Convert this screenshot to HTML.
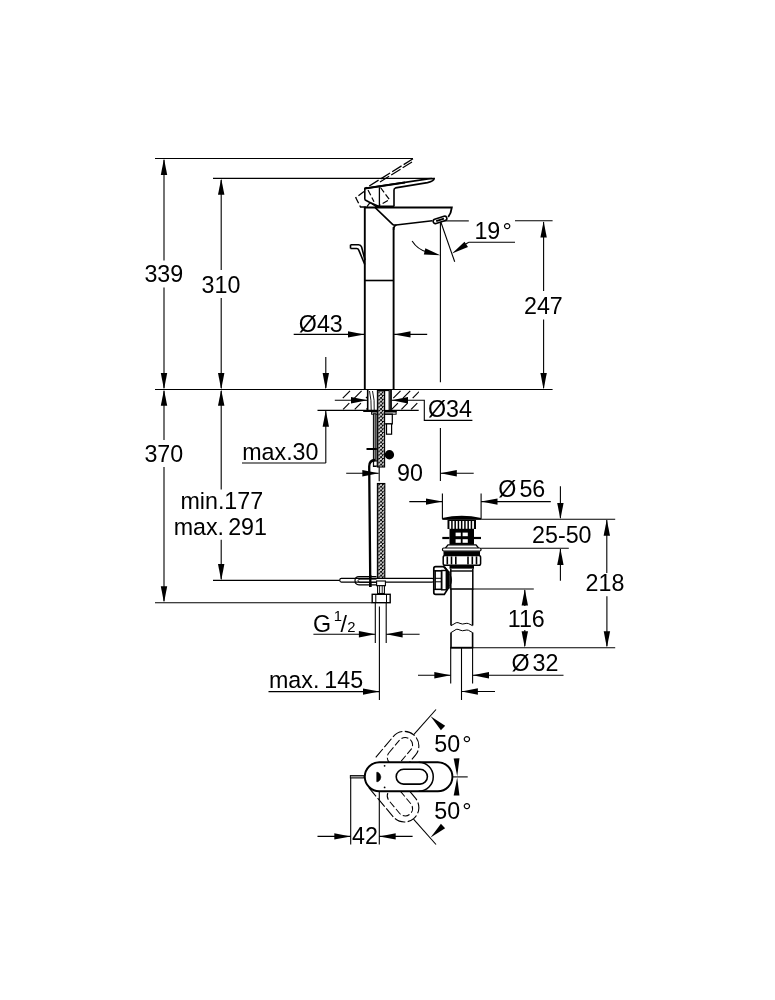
<!DOCTYPE html>
<html><head><meta charset="utf-8"><title>drawing</title>
<style>
html,body{margin:0;padding:0;background:#fff;}
body{width:775px;height:1000px;overflow:hidden;}
svg{display:block;will-change:transform;}
text{font-family:"Liberation Sans",sans-serif;fill:#000;}
</style></head><body>
<svg width="775" height="1000" viewBox="0 0 775 1000">
<rect x="0" y="0" width="775" height="1000" fill="#fff"/>
<line x1="155" y1="158.5" x2="413" y2="158.5" stroke="#000" stroke-width="1.1" />
<line x1="213" y1="178.4" x2="432" y2="178.4" stroke="#000" stroke-width="1.1" />
<line x1="155" y1="389.5" x2="552.6" y2="389.5" stroke="#000" stroke-width="1.15" />
<line x1="155" y1="602.7" x2="372" y2="602.7" stroke="#000" stroke-width="1.1" />
<line x1="213" y1="580.4" x2="340" y2="580.4" stroke="#000" stroke-width="1.1" />
<line x1="164" y1="160" x2="164" y2="260.5" stroke="#000" stroke-width="1.1" />
<line x1="164" y1="287.6" x2="164" y2="388" stroke="#000" stroke-width="1.1" />
<polygon points="164.00,158.50 167.20,174.90 160.80,174.90" fill="#000"/>
<polygon points="164.00,389.50 160.80,373.10 167.20,373.10" fill="#000"/>
<text transform="translate(163.8 282.4) scale(0.99 1)" font-size="23.5" text-anchor="middle" >339</text>
<line x1="221.2" y1="180" x2="221.2" y2="270.1" stroke="#000" stroke-width="1.1" />
<line x1="221.2" y1="298" x2="221.2" y2="388" stroke="#000" stroke-width="1.1" />
<polygon points="221.20,178.40 224.40,194.80 218.00,194.80" fill="#000"/>
<polygon points="221.20,389.50 218.00,373.10 224.40,373.10" fill="#000"/>
<text transform="translate(221 292.5) scale(0.99 1)" font-size="23.5" text-anchor="middle" >310</text>
<line x1="164" y1="391" x2="164" y2="440" stroke="#000" stroke-width="1.1" />
<line x1="164" y1="467" x2="164" y2="601" stroke="#000" stroke-width="1.1" />
<polygon points="164.00,389.40 167.20,405.80 160.80,405.80" fill="#000"/>
<polygon points="164.00,602.70 160.80,586.30 167.20,586.30" fill="#000"/>
<text transform="translate(163.8 461.8) scale(0.99 1)" font-size="23.5" text-anchor="middle" >370</text>
<line x1="221.2" y1="391" x2="221.2" y2="489.5" stroke="#000" stroke-width="1.1" />
<line x1="221.2" y1="539.8" x2="221.2" y2="579" stroke="#000" stroke-width="1.1" />
<polygon points="221.20,389.40 224.40,405.80 218.00,405.80" fill="#000"/>
<polygon points="221.20,580.40 218.00,564.00 224.40,564.00" fill="#000"/>
<text transform="translate(221.8 508.8) scale(0.99 1)" font-size="23.5" text-anchor="middle" >min.177</text>
<text transform="translate(220.3 535) scale(0.99 1)" font-size="23.5" text-anchor="middle" word-spacing="-2.4">max. 291</text>
<line x1="443" y1="220.9" x2="468.8" y2="220.9" stroke="#000" stroke-width="1.1" />
<line x1="515" y1="220.8" x2="552.6" y2="220.8" stroke="#000" stroke-width="1.1" />
<line x1="543.6" y1="222" x2="543.6" y2="291" stroke="#000" stroke-width="1.1" />
<line x1="543.6" y1="319.5" x2="543.6" y2="388" stroke="#000" stroke-width="1.1" />
<polygon points="543.60,221.20 546.80,237.60 540.40,237.60" fill="#000"/>
<polygon points="543.60,389.50 540.40,373.10 546.80,373.10" fill="#000"/>
<text transform="translate(543.4 313.8) scale(0.99 1)" font-size="23.5" text-anchor="middle" >247</text>
<text transform="translate(493.1 238.8) scale(0.99 1)" font-size="23.5" text-anchor="middle" >19<tspan dx="2.2">°</tspan></text>
<line x1="515" y1="242.3" x2="468.8" y2="242.3" stroke="#000" stroke-width="1.1" />
<line x1="440.4" y1="220.8" x2="454.7" y2="261.8" stroke="#000" stroke-width="1.1" />
<line x1="440.4" y1="220.8" x2="440.4" y2="382.2" stroke="#000" stroke-width="1.1" />
<line x1="293.7" y1="334.4" x2="364.4" y2="334.4" stroke="#000" stroke-width="1.1" />
<polygon points="364.40,334.40 348.00,337.60 348.00,331.20" fill="#000"/>
<line x1="394.1" y1="334.4" x2="427.2" y2="334.4" stroke="#000" stroke-width="1.1" />
<polygon points="394.10,334.40 410.50,331.20 410.50,337.60" fill="#000"/>
<text transform="translate(320.8 332) scale(0.99 1)" font-size="23.5" text-anchor="middle" >Ø43</text>
<line x1="325.8" y1="357" x2="325.8" y2="388" stroke="#000" stroke-width="1.1" />
<polygon points="325.80,389.50 322.60,373.10 329.00,373.10" fill="#000"/>
<line x1="325.8" y1="411" x2="325.8" y2="463" stroke="#000" stroke-width="1.1" />
<polygon points="325.80,410.40 329.00,426.80 322.60,426.80" fill="#000"/>
<line x1="242" y1="463" x2="325.8" y2="463" stroke="#000" stroke-width="1.1" />
<text transform="translate(242.2 459.6) scale(0.99 1)" font-size="23.5" text-anchor="start" >max.30</text>
<line x1="317.5" y1="410.4" x2="418.7" y2="410.4" stroke="#000" stroke-width="1.15" />
<line x1="334.8" y1="400.3" x2="367.4" y2="400.3" stroke="#000" stroke-width="1.1" />
<polygon points="367.40,400.30 351.00,403.50 351.00,397.10" fill="#000"/>
<polygon points="391.60,400.30 408.00,397.10 408.00,403.50" fill="#000"/>
<path d="M391.6,400.3 H424.3 V420.4 H472.4" stroke="#000" stroke-width="1.1" fill="none" />
<text transform="translate(428 417) scale(0.99 1)" font-size="23.5" text-anchor="start" >Ø34</text>
<line x1="346.2" y1="473.2" x2="378.7" y2="473.2" stroke="#000" stroke-width="1.1" />
<polygon points="378.70,473.20 362.30,476.40 362.30,470.00" fill="#000"/>
<line x1="379.2" y1="467" x2="379.2" y2="481.3" stroke="#000" stroke-width="1.1" />
<text transform="translate(410 481) scale(0.99 1)" font-size="23.5" text-anchor="middle" >90</text>
<line x1="440.4" y1="428" x2="440.4" y2="481" stroke="#000" stroke-width="1.1" />
<line x1="440.4" y1="473.3" x2="473.7" y2="473.3" stroke="#000" stroke-width="1.1" />
<polygon points="440.40,473.30 456.80,470.10 456.80,476.50" fill="#000"/>
<line x1="409.3" y1="501.6" x2="442.4" y2="501.6" stroke="#000" stroke-width="1.1" />
<polygon points="442.40,501.60 426.00,504.80 426.00,498.40" fill="#000"/>
<line x1="481.1" y1="501.6" x2="550.8" y2="501.6" stroke="#000" stroke-width="1.1" />
<polygon points="481.10,501.60 497.50,498.40 497.50,504.80" fill="#000"/>
<line x1="442.4" y1="493.4" x2="442.4" y2="518.8" stroke="#000" stroke-width="1.1" />
<line x1="481.1" y1="493.4" x2="481.1" y2="518.8" stroke="#000" stroke-width="1.1" />
<text transform="translate(498.2 497.4) scale(0.99 1)" font-size="23.5" text-anchor="start" word-spacing="-3.4">Ø 56</text>
<line x1="481.1" y1="519.3" x2="615.2" y2="519.3" stroke="#000" stroke-width="1.1" />
<line x1="560.4" y1="486.3" x2="560.4" y2="518" stroke="#000" stroke-width="1.1" />
<polygon points="560.40,519.30 557.20,502.90 563.60,502.90" fill="#000"/>
<text transform="translate(561.8 542.5) scale(0.99 1)" font-size="23.5" text-anchor="middle" >25-50</text>
<line x1="481.1" y1="548.3" x2="568.8" y2="548.3" stroke="#000" stroke-width="1.1" />
<line x1="560.4" y1="549" x2="560.4" y2="580.8" stroke="#000" stroke-width="1.1" />
<polygon points="560.40,548.50 563.60,564.90 557.20,564.90" fill="#000"/>
<line x1="606.8" y1="520" x2="606.8" y2="573" stroke="#000" stroke-width="1.1" />
<line x1="606.9" y1="596.3" x2="606.9" y2="646" stroke="#000" stroke-width="1.1" />
<polygon points="606.80,519.40 610.00,535.80 603.60,535.80" fill="#000"/>
<polygon points="606.90,647.70 603.70,631.30 610.10,631.30" fill="#000"/>
<text transform="translate(605 591.3) scale(0.99 1)" font-size="23.5" text-anchor="middle" >218</text>
<line x1="472.6" y1="589.0" x2="533.8" y2="589.0" stroke="#000" stroke-width="1.1" />
<polygon points="524.80,589.20 528.00,605.60 521.60,605.60" fill="#000"/>
<polygon points="524.80,647.70 521.60,631.30 528.00,631.30" fill="#000"/>
<line x1="524.8" y1="590" x2="524.8" y2="606" stroke="#000" stroke-width="1.1" />
<line x1="524.8" y1="630" x2="524.8" y2="646" stroke="#000" stroke-width="1.1" />
<text transform="translate(526.2 627.1) scale(0.99 1)" font-size="23.5" text-anchor="middle" >116</text>
<line x1="450.5" y1="647.8" x2="615.2" y2="647.8" stroke="#000" stroke-width="1.1" />
<line x1="450.3" y1="647.7" x2="473.2" y2="647.7" stroke="#000" stroke-width="1.8" />
<line x1="418" y1="675.2" x2="450.7" y2="675.2" stroke="#000" stroke-width="1.1" />
<polygon points="450.70,675.20 434.30,678.40 434.30,672.00" fill="#000"/>
<line x1="472.6" y1="675.2" x2="563.5" y2="675.2" stroke="#000" stroke-width="1.1" />
<polygon points="472.60,675.20 489.00,672.00 489.00,678.40" fill="#000"/>
<line x1="450.7" y1="647.8" x2="450.7" y2="683.4" stroke="#000" stroke-width="1.1" />
<line x1="472.6" y1="647.8" x2="472.6" y2="683.4" stroke="#000" stroke-width="1.1" />
<line x1="461.5" y1="647.8" x2="461.5" y2="700" stroke="#000" stroke-width="1.1" />
<text transform="translate(511.4 671) scale(0.99 1)" font-size="23.5" text-anchor="start" word-spacing="-3.4">Ø 32</text>
<line x1="268.5" y1="691.6" x2="379.4" y2="691.6" stroke="#000" stroke-width="1.1" />
<polygon points="379.40,691.60 363.00,694.80 363.00,688.40" fill="#000"/>
<line x1="461.5" y1="691.5" x2="495" y2="691.5" stroke="#000" stroke-width="1.1" />
<polygon points="461.50,691.50 477.90,688.30 477.90,694.70" fill="#000"/>
<text transform="translate(269 687.8) scale(0.99 1)" font-size="23.5" text-anchor="start" word-spacing="-1.5">max. 145</text>
<line x1="379.4" y1="606.5" x2="379.4" y2="700" stroke="#000" stroke-width="1.1" />
<line x1="313.4" y1="634.3" x2="375.3" y2="634.3" stroke="#000" stroke-width="1.1" />
<polygon points="375.30,634.30 358.90,637.50 358.90,631.10" fill="#000"/>
<line x1="386.2" y1="634.3" x2="419.6" y2="634.3" stroke="#000" stroke-width="1.1" />
<polygon points="386.20,634.30 402.60,631.10 402.60,637.50" fill="#000"/>
<line x1="375.3" y1="602.7" x2="375.3" y2="643" stroke="#000" stroke-width="1.1" />
<line x1="386.2" y1="602.7" x2="386.2" y2="643" stroke="#000" stroke-width="1.1" />
<text transform="translate(313 631.8) scale(0.99 1)" font-size="23.5" text-anchor="start" >G</text>
<text transform="translate(333.8 621) scale(0.99 1)" font-size="15" text-anchor="start" >1</text>
<text transform="translate(340.5 631.8) scale(0.99 1)" font-size="23.5" text-anchor="start" >/</text>
<text transform="translate(347.2 631.8) scale(0.99 1)" font-size="15" text-anchor="start" >2</text>
<line x1="317.5" y1="836.4" x2="350.7" y2="836.4" stroke="#000" stroke-width="1.1" />
<polygon points="350.70,836.40 334.30,839.60 334.30,833.20" fill="#000"/>
<line x1="379.3" y1="836.4" x2="412.6" y2="836.4" stroke="#000" stroke-width="1.1" />
<polygon points="379.30,836.40 395.70,833.20 395.70,839.60" fill="#000"/>
<line x1="350.7" y1="775.4" x2="350.7" y2="844.5" stroke="#000" stroke-width="1.1" />
<line x1="379.3" y1="791.6" x2="379.3" y2="844.5" stroke="#000" stroke-width="1.1" />
<text transform="translate(365 843.8) scale(0.99 1)" font-size="23.5" text-anchor="middle" >42</text>
<text transform="translate(452.9 751.8) scale(0.99 1)" font-size="23.5" text-anchor="middle" >50<tspan dx="2.2">°</tspan></text>
<text transform="translate(452.9 818.7) scale(0.99 1)" font-size="23.5" text-anchor="middle" >50<tspan dx="2.2">°</tspan></text>
<line x1="413.5" y1="734.8" x2="436" y2="709.5" stroke="#000" stroke-width="1.1" />
<line x1="413.5" y1="819.2" x2="436" y2="844.5" stroke="#000" stroke-width="1.1" />
<line x1="452.3" y1="776.9" x2="467.7" y2="776.9" stroke="#000" stroke-width="1.1" />
<line x1="364.8" y1="207.2" x2="364.8" y2="389.4" stroke="#000" stroke-width="1.9" />
<line x1="393.6" y1="227" x2="393.6" y2="389.4" stroke="#000" stroke-width="1.9" />
<path d="M364.3,207.5 H451.8 C451.4,211 450.2,214.5 448.2,217" stroke="#000" stroke-width="1.9" fill="none" />
<path d="M375.2,207.6 L392.6,224.3 Q393.6,225.3 396,225 L432.3,220.7" stroke="#000" stroke-width="1.6" fill="none" />
<path d="M393.6,230 Q393.4,226 396.5,225" stroke="#000" stroke-width="1.6" fill="none" />
<g transform="rotate(-18 440 219.9)"><rect x="432.9" y="217.7" width="14.2" height="4.4" rx="2.2" fill="#fff" stroke="#000" stroke-width="1.6"/><line x1="436" y1="219.9" x2="444.2" y2="219.9" stroke="#000" stroke-width="2.0"/></g>
<line x1="364.8" y1="280.5" x2="393.6" y2="280.5" stroke="#000" stroke-width="1.6" />
<path d="M350.5,244.8 H358.6 Q360.8,244.8 361.6,247 L365,260 M350.5,248.5 H356.6 Q358.2,248.5 358.9,250.4 L364.8,264.5 M350.5,244.8 V248.5" stroke="#000" stroke-width="1.6" fill="none" />
<path d="M364.8,199.7 V188.5 L428,178.9 Q432.5,178.3 434.2,178.5 Q434.2,181 427.5,182.6 L395.5,187.9 Q394,188.3 394,190 V206.4" stroke="#000" stroke-width="1.6" fill="none" />
<path d="M364.8,188.5 L405,182.4" stroke="#000" stroke-width="2.0" fill="none" />
<path d="M364.8,199.7 L369.4,202.3 L379,206.4" stroke="#000" stroke-width="1.6" fill="none" />
<path d="M366.8,206.8 L370,202.6 L375.5,206.2" stroke="#000" stroke-width="1.2" fill="none" />
<line x1="379.4" y1="187.2" x2="379.4" y2="206.4" stroke="#000" stroke-width="1.3" />
<line x1="375" y1="206.6" x2="394" y2="206.6" stroke="#000" stroke-width="2.2" />
<path d="M413,158.8 L365,188.6" stroke="#000" stroke-width="1.3" fill="none" stroke-dasharray="11 2.5"/>
<path d="M412,162 L380,182" stroke="#000" stroke-width="1.2" fill="none" stroke-dasharray="11 2.5"/>
<path d="M364,191.5 L355.8,197.8 L360.5,207 L366.5,207" stroke="#000" stroke-width="1.3" fill="none" stroke-dasharray="7 2.5"/>
<path d="M368,190 L374,201.8 M380.5,187.5 L389.5,199.7 L380,205 " stroke="#000" stroke-width="1.2" fill="none" stroke-dasharray="6 2.5"/>
<polygon points="452.00,253.60 464.51,241.66 468.00,247.02" fill="#000"/>
<line x1="468.8" y1="242.3" x2="465" y2="244.5" stroke="#000" stroke-width="1.1" />
<path d="M412.1,241 Q417.5,249.5 427,252" stroke="#000" stroke-width="1.1" fill="none" />
<polygon points="440.30,255.20 423.81,254.39 425.36,248.18" fill="#000"/>
<defs><clipPath id="hL"><rect x="340" y="390" width="27.4" height="20"/></clipPath><clipPath id="hR"><rect x="391.6" y="390" width="27.2" height="20"/></clipPath></defs>
<g clip-path="url(#hL)" stroke="#000" stroke-width="1.15">
<line x1="331.5" y1="409.4" x2="337.7" y2="403.2"/>
<line x1="342.8" y1="398.1" x2="350.0" y2="390.9"/>
<line x1="343.1" y1="409.4" x2="349.3" y2="403.2"/>
<line x1="354.40000000000003" y1="398.1" x2="361.6" y2="390.9"/>
<line x1="354.7" y1="409.4" x2="360.9" y2="403.2"/>
<line x1="366.0" y1="398.1" x2="373.2" y2="390.9"/>
<line x1="366.3" y1="409.4" x2="372.5" y2="403.2"/>
<line x1="377.6" y1="398.1" x2="384.8" y2="390.9"/>
</g>
<g clip-path="url(#hR)" stroke="#000" stroke-width="1.15">
<line x1="382.0" y1="409.4" x2="388.2" y2="403.2"/>
<line x1="393.3" y1="398.1" x2="400.5" y2="390.9"/>
<line x1="391.7" y1="409.4" x2="397.9" y2="403.2"/>
<line x1="403.0" y1="398.1" x2="410.2" y2="390.9"/>
<line x1="401.4" y1="409.4" x2="407.59999999999997" y2="403.2"/>
<line x1="412.7" y1="398.1" x2="419.9" y2="390.9"/>
<line x1="411.1" y1="409.4" x2="417.3" y2="403.2"/>
<line x1="422.40000000000003" y1="398.1" x2="429.6" y2="390.9"/>
<line x1="420.8" y1="409.4" x2="427.0" y2="403.2"/>
<line x1="432.1" y1="398.1" x2="439.3" y2="390.9"/>
</g>
<line x1="367.7" y1="389.4" x2="367.7" y2="410.4" stroke="#000" stroke-width="1.6" />
<line x1="391" y1="389.4" x2="391" y2="410.4" stroke="#000" stroke-width="1.8" />
<line x1="363.2" y1="411" x2="396.8" y2="411" stroke="#000" stroke-width="1.8" />
<rect x="371.6" y="412" width="24.5" height="2.2" fill="#fff" stroke="#000" stroke-width="1" />
<path d="M369.5,391 Q371.5,400 371.2,410 M372.5,391 Q374.8,400 374.2,410" stroke="#000" stroke-width="0.9" fill="none" />
<defs><pattern id="br" x="377.4" y="390.5" width="3.7" height="3.7" patternUnits="userSpaceOnUse"><rect width="3.7" height="3.7" fill="#fff"/><path d="M0,0 L3.7,3.7 M3.7,0 L0,3.7" stroke="#000" stroke-width="0.95"/></pattern></defs>
<rect x="377.4" y="390.5" width="7.2" height="76.5" fill="url(#br)" stroke="#000" stroke-width="1.1" />
<rect x="384.6" y="390.5" width="4.6" height="20" fill="#fff" stroke="#000" stroke-width="1.2" />
<rect x="373.4" y="413.8" width="2.6" height="52.7" fill="#888" stroke="#000" stroke-width="1.0" />
<path d="M384.6,414.2 H392.3 V423.9 H384.6" stroke="#000" stroke-width="1.2" fill="none" />
<rect x="386.5" y="423.9" width="5.1" height="10.3" fill="#fff" stroke="#000" stroke-width="1.2" />
<line x1="366.5" y1="449" x2="376.8" y2="449" stroke="#000" stroke-width="2.0" />
<circle cx="389.4" cy="454.7" r="4.7" fill="#000"/>
<rect x="373.6" y="461" width="3.6" height="5" fill="#fff" stroke="#000" stroke-width="1" />
<path d="M375.2,460 Q369.2,460.2 369.2,466.5 L370.3,587" stroke="#000" stroke-width="2.3" fill="none" />
<rect x="377.4" y="483.5" width="7.4" height="97.5" fill="url(#br)" stroke="#000" stroke-width="1.1" />
<rect x="339.8" y="578.4" width="94" height="3.7" fill="#fff" stroke="#000" stroke-width="1.1" rx="1.6"/>
<path d="M376.5,576.6 H359 Q355,576.6 355,580.6 Q355,584.8 359,584.8 H376.5" stroke="#000" stroke-width="1.2" fill="none" />
<path d="M376.5,579.2 H360 Q358,579.4 358,580.6 Q358,582.2 360,582.4 H376.5" stroke="#000" stroke-width="0.9" fill="none" />
<line x1="370.25" y1="575" x2="370.3" y2="587" stroke="#000" stroke-width="2.3" />
<rect x="376.6" y="581" width="8.8" height="4.7" fill="#fff" stroke="#000" stroke-width="1.1" />
<rect x="377.6" y="585.7" width="6.8" height="7.8" fill="#fff" stroke="#000" stroke-width="1.1" />
<line x1="379.6" y1="586" x2="379.6" y2="593.5" stroke="#000" stroke-width="0.9" />
<line x1="382.2" y1="586" x2="382.2" y2="593.5" stroke="#000" stroke-width="0.9" />
<rect x="372.2" y="594.3" width="18" height="8.4" fill="#fff" stroke="#000" stroke-width="1.4" />
<line x1="375.8" y1="594.3" x2="375.8" y2="602.7" stroke="#000" stroke-width="1" />
<line x1="386.5" y1="594.3" x2="386.5" y2="602.7" stroke="#000" stroke-width="1" />
<path d="M442.4,518.8 Q461.7,514.2 481.1,518.8 Z" stroke="#000" stroke-width="1.4" fill="#000" />
<line x1="442.4" y1="518.9" x2="481.1" y2="518.9" stroke="#000" stroke-width="1.8" />
<rect x="447.5" y="520" width="28.5" height="9" fill="#000" stroke="none" stroke-width="0" />
<line x1="450.3" y1="521.0" x2="450.3" y2="528.8" stroke="#fff" stroke-width="1.75" />
<line x1="453.55" y1="521.0" x2="453.55" y2="528.8" stroke="#fff" stroke-width="1.75" />
<line x1="456.8" y1="521.0" x2="456.8" y2="528.8" stroke="#fff" stroke-width="1.75" />
<line x1="460.05" y1="521.0" x2="460.05" y2="528.8" stroke="#fff" stroke-width="1.75" />
<line x1="463.3" y1="521.0" x2="463.3" y2="528.8" stroke="#fff" stroke-width="1.75" />
<line x1="466.55" y1="521.0" x2="466.55" y2="528.8" stroke="#fff" stroke-width="1.75" />
<line x1="469.8" y1="521.0" x2="469.8" y2="528.8" stroke="#fff" stroke-width="1.75" />
<line x1="473.05" y1="521.0" x2="473.05" y2="528.8" stroke="#fff" stroke-width="1.75" />
<rect x="449.5" y="529" width="24.5" height="16" fill="#000" stroke="none" stroke-width="0" />
<rect x="455.6" y="532.6" width="5.2" height="3.6" fill="#fff" stroke="none" stroke-width="0" />
<rect x="462.6" y="532.6" width="5.2" height="3.6" fill="#fff" stroke="none" stroke-width="0" />
<rect x="455.6" y="539.2" width="5.2" height="3.6" fill="#fff" stroke="none" stroke-width="0" />
<rect x="462.6" y="539.2" width="5.2" height="3.6" fill="#fff" stroke="none" stroke-width="0" />
<line x1="442.3" y1="538" x2="449.5" y2="538" stroke="#000" stroke-width="2.2" />
<line x1="474" y1="538" x2="481" y2="538" stroke="#000" stroke-width="2.2" />
<path d="M445.5,548 L448,544.8 H476 L478.5,548" stroke="#000" stroke-width="1.3" fill="#fff" />
<rect x="442.5" y="548" width="38.5" height="3" fill="#fff" stroke="#000" stroke-width="1.2" rx="1.2"/>
<rect x="443.5" y="551.2" width="36.5" height="4.2" fill="#000" stroke="none" stroke-width="0" />
<rect x="443.2" y="555.6" width="37.4" height="9.6" fill="#fff" stroke="#000" stroke-width="1.5" rx="1.8"/>
<line x1="447.3" y1="556.4" x2="447.3" y2="564.4" stroke="#000" stroke-width="1.6" />
<line x1="451.5" y1="556.4" x2="451.5" y2="564.4" stroke="#000" stroke-width="1.6" />
<line x1="455.8" y1="556.4" x2="455.8" y2="564.4" stroke="#000" stroke-width="1.6" />
<line x1="468.0" y1="556.4" x2="468.0" y2="564.4" stroke="#000" stroke-width="1.6" />
<line x1="472.3" y1="556.4" x2="472.3" y2="564.4" stroke="#000" stroke-width="1.6" />
<line x1="476.5" y1="556.4" x2="476.5" y2="564.4" stroke="#000" stroke-width="1.6" />
<rect x="449.5" y="565.2" width="24.5" height="3.6" fill="#000" stroke="none" stroke-width="0" />
<path d="M450.8,568.8 V589.0 H472.8 V568.8" stroke="#000" stroke-width="1.5" fill="#fff" />
<line x1="450.8" y1="571" x2="472.8" y2="571" stroke="#000" stroke-width="1.4" />
<path d="M451,589.0 V625.5 M472.6,589.0 V625.5" stroke="#000" stroke-width="1.6" fill="none" />
<path d="M451,632.6 V647.8 M472.6,632.6 V647.8" stroke="#000" stroke-width="1.6" fill="none" />
<path d="M451,625.7 L456.2,622.7 Q458,622.2 460,623.4 Q462.5,624.6 465,623.6 Q467,623 468.5,623.6 L472.6,625.7" stroke="#000" stroke-width="1.0" fill="none" />
<path d="M451,632.6 L456.2,629.4 Q458,628.9 460,630.1 Q462.5,631.3 465,630.3 Q467,629.7 468.5,630.3 L472.6,632.6" stroke="#000" stroke-width="1.0" fill="none" />
<path d="M435.6,566.6 H443.6 L448.2,571.6 V588.3 L444.3,594.4 H435.6 Q433.8,594.4 433.8,592.6 V568.4 Q433.8,566.6 435.6,566.6 Z" stroke="#000" stroke-width="1.7" fill="#fff" />
<rect x="435.2" y="570.8" width="6.2" height="18.6" fill="#fff" stroke="#000" stroke-width="1.4" />
<line x1="433.8" y1="570.8" x2="441.4" y2="570.8" stroke="#000" stroke-width="1.1" />
<line x1="433.8" y1="589.4" x2="441.4" y2="589.4" stroke="#000" stroke-width="1.1" />
<line x1="435.2" y1="578.3" x2="441.8" y2="578.3" stroke="#000" stroke-width="1.0" />
<line x1="435.2" y1="581.8" x2="441.8" y2="581.8" stroke="#000" stroke-width="1.0" />
<rect x="441.8" y="570.5" width="4.5" height="19.3" fill="#fff" stroke="#000" stroke-width="1.4" />
<rect x="446.9" y="571.4" width="2.9" height="17.2" fill="#000" stroke="none" stroke-width="0" />
<path d="M449.8,574.3 Q453.4,580 449.8,586" stroke="#000" stroke-width="0.9" fill="none" />
<path d="M444.6,566.2 L448.6,571.6" stroke="#000" stroke-width="1.0" fill="none" />
<g transform="rotate(-50 378.5 776.7)">
<path d="M391.5,762.2 H418.7 A14.5,14.5 0 0 1 418.7,791.2 H380" fill="none" stroke="#000" stroke-width="1.1" stroke-dasharray="11 2.4"/>
<rect x="396.2" y="769.3000000000001" width="31.2" height="14.8" rx="7.4" fill="none" stroke="#000" stroke-width="1.0" stroke-dasharray="7 2.5"/>
</g>
<g transform="rotate(50 378.5 776.7)">
<path d="M381,791.2 H418.7 A14.5,14.5 0 0 0 418.7,762.2 H380" fill="none" stroke="#000" stroke-width="1.1" stroke-dasharray="11 2.4"/>
<rect x="396.2" y="769.3000000000001" width="31.2" height="14.8" rx="7.4" fill="none" stroke="#000" stroke-width="1.0" stroke-dasharray="7 2.5"/>
</g>
<rect x="364.8" y="762.2" width="87.6" height="29.1" fill="#fff" stroke="#000" stroke-width="1.9" rx="14.55"/>
<path d="M418.7,762.2 A14.5,14.5 0 0 1 418.7,791.3" stroke="#000" stroke-width="1.5" fill="none" />
<rect x="396.2" y="769.3" width="31.2" height="14.8" fill="#fff" stroke="#000" stroke-width="1.6" rx="7.4"/>
<path d="M376.7,772.3 H378 Q380.9,774 380.9,777 Q380.9,780 378,781.7 H376.7 Z" stroke="#000" stroke-width="0.5" fill="#000" />
<circle cx="384.6" cy="765.8" r="0.9" fill="#000"/><circle cx="384.6" cy="787.4" r="0.9" fill="#000"/>
<rect x="350.3" y="775.6" width="13.7" height="2.4" fill="#999" stroke="#000" stroke-width="0.9" />
<polygon points="430.60,716.30 445.15,725.63 440.92,730.16" fill="#000"/>
<polygon points="430.60,837.50 440.92,823.64 445.15,828.17" fill="#000"/>
<polygon points="457.20,776.30 453.67,758.41 459.47,758.21" fill="#000"/>
<polygon points="457.20,777.50 459.47,795.59 453.67,795.39" fill="#000"/>
</svg>
</body></html>
